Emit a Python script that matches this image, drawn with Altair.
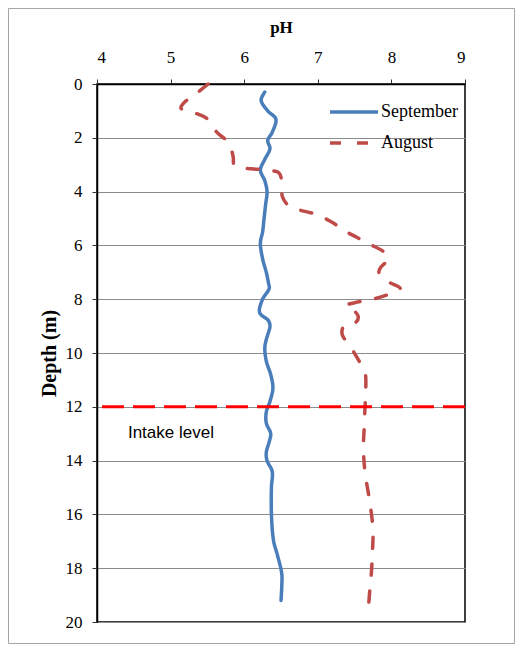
import altair as alt
import pandas as pd

# ---- data ----
sep_depth = [0.3, 0.6, 1.0, 1.3, 1.8, 2.1, 2.4, 2.8, 3.2, 3.6, 4.0, 4.5, 5.0, 5.5, 5.9, 6.5, 7.0,
             7.4, 7.6, 8.0, 8.5, 8.8, 9.0, 9.5, 9.8, 10.3, 10.8, 11.3, 11.8, 12.2, 12.6, 13.0, 13.3,
             13.7, 14.0, 14.4, 15.0, 16.0, 17.0, 17.5, 18.2, 18.7, 19.2]
sep_ph = [6.28, 6.23, 6.32, 6.43, 6.38, 6.32, 6.35, 6.28, 6.22, 6.28, 6.31, 6.29, 6.27, 6.25, 6.22,
          6.25, 6.30, 6.33, 6.34, 6.25, 6.21, 6.33, 6.35, 6.30, 6.28, 6.30, 6.36, 6.39, 6.35, 6.30,
          6.30, 6.36, 6.34, 6.30, 6.31, 6.38, 6.37, 6.37, 6.40, 6.45, 6.51, 6.51, 6.50]

aug_depth = [0.0, 0.35, 0.7, 0.9, 1.05, 1.3, 1.8, 2.1, 2.4, 2.7, 3.05, 3.15, 3.2, 3.3, 3.6, 4.2,
             4.55, 4.85, 5.15, 5.45, 5.7, 5.95, 6.25, 6.5, 6.8, 7.0, 7.35, 7.6, 7.8, 8.0, 8.1,
             8.25, 8.45, 8.65, 8.85, 8.97, 9.3, 9.75, 10.25, 10.7, 11.5, 12.1, 12.8, 13.5, 14.4,
             15.6, 16.6, 17.5, 18.1, 18.7, 19.75]
aug_ph = [5.51, 5.35, 5.18, 5.14, 5.30, 5.50, 5.63, 5.76, 5.82, 5.85, 5.87, 6.10, 6.30, 6.47, 6.51,
          6.52, 6.62, 6.98, 7.20, 7.36, 7.53, 7.70, 7.90, 7.96, 7.86, 7.83, 7.96, 8.12, 7.98, 7.75,
          7.55, 7.38, 7.50, 7.55, 7.52, 7.36, 7.33, 7.44, 7.55, 7.64, 7.65, 7.64, 7.63, 7.62, 7.64,
          7.71, 7.75, 7.74, 7.73, 7.71, 7.68]

series_names = ["September", "August"]
series_colors = ["#4A7EBB", "#BE4B48"]
series_dashes = [[1, 0], [11, 16]]

intake_depth = [12]
intake_label = ["Intake level"]
intake_label_ph = [4.42]
intake_label_depth = [12.97]

x_ticks = [4, 5, 6, 7, 8, 9]
y_ticks = [0, 2, 4, 6, 8, 10, 12, 14, 16, 18, 20]

SERIF = "Liberation Serif"
SANS = "Liberation Sans"

df = pd.concat([
    pd.DataFrame({"depth": sep_depth, "ph": sep_ph, "series": series_names[0]}),
    pd.DataFrame({"depth": aug_depth, "ph": aug_ph, "series": series_names[1]}),
], ignore_index=True)
df["idx"] = range(len(df))

# long horizontal line symbol drawn from a short "size" so rows stay compact
legend_cfg = dict(
    orient="none", legendX=243, legendY=14, title=None, symbolType="M-2,0H2",
    symbolSize=576, symbolStrokeWidth=3.5, labelFont=SERIF, labelFontSize=18,
    labelColor="black", labelOffset=13, rowPadding=8, padding=0,
)

lines = alt.Chart(df).mark_line(strokeWidth=3.5, interpolate="catmull-rom", strokeCap="round").encode(
    x=alt.X("ph:Q", scale=alt.Scale(domain=[4, 9], nice=False),
            axis=alt.Axis(orient="top", values=x_ticks, title="pH", grid=False, format="d",
                          labelPadding=13, titlePadding=12)),
    y=alt.Y("depth:Q", scale=alt.Scale(domain=[0, 20], reverse=True, nice=False),
            axis=alt.Axis(values=y_ticks, title="Depth (m)", grid=True, format="d",
                          labelPadding=10, titlePadding=6, titleFontSize=20)),
    color=alt.Color("series:N", scale=alt.Scale(domain=series_names, range=series_colors),
                    legend=alt.Legend(**legend_cfg)),
    strokeDash=alt.StrokeDash("series:N", scale=alt.Scale(domain=series_names, range=series_dashes),
                              legend=alt.Legend(**legend_cfg)),
    order=alt.Order("idx:Q"),
)

intake = alt.Chart(pd.DataFrame({"depth": intake_depth})).mark_rule(
    color="#FF0000", strokeWidth=3, strokeDash=[22, 9]
).encode(y="depth:Q")

intake_text = alt.Chart(pd.DataFrame({"ph": intake_label_ph, "depth": intake_label_depth,
                                      "label": intake_label})).mark_text(
    align="left", baseline="middle", font=SANS, fontSize=17, color="black"
).encode(x="ph:Q", y="depth:Q", text="label:N")

frame = alt.Chart(pd.DataFrame({"a": [0]})).mark_rect(
    fillOpacity=0, stroke="#A6A6A6", strokeWidth=1
).encode(x=alt.value(-88.5), x2=alt.value(417.5), y=alt.value(-75.5), y2=alt.value(559.5))

chart = alt.layer(frame, lines, intake, intake_text).properties(
    width=368, height=538,
    background="white",
    autosize=alt.AutoSizeParams(type="none"),
    padding={"left": 89, "top": 76, "right": 50, "bottom": 22},
).configure_view(
    stroke="black", strokeWidth=1.5
).configure_axis(
    labelFont=SERIF, labelFontSize=17, labelColor="black",
    titleFont=SERIF, titleFontSize=17, titleFontWeight="bold", titleColor="black",
    tickSize=5, tickColor="#333333", domainColor="black", domainWidth=1.5,
    gridColor="#8C8C8C", gridWidth=1.2,
)

chart.save("out.html", embed_options={"renderer": "svg", "actions": False})
